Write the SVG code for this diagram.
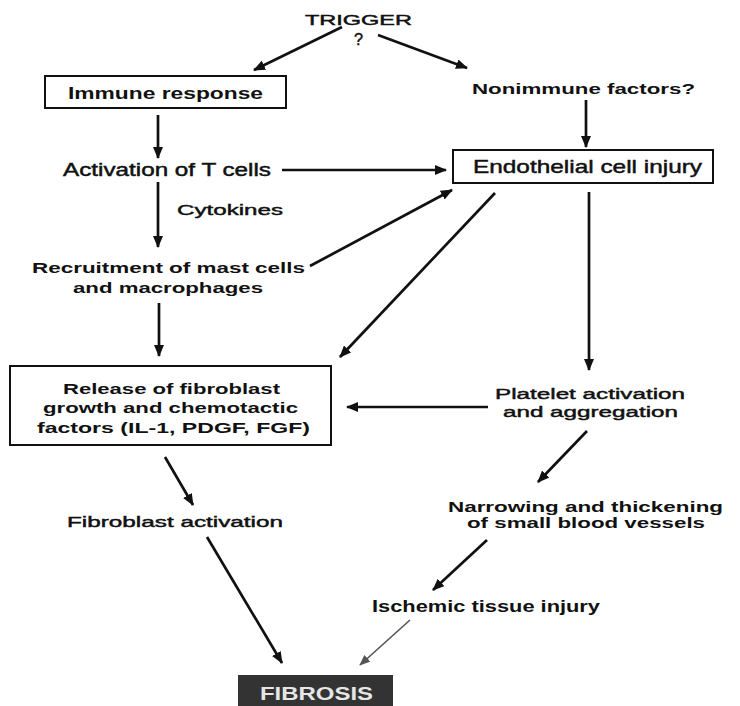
<svg xmlns="http://www.w3.org/2000/svg" width="740" height="706" viewBox="0 0 740 706">
  <defs>
    <marker id="arrow" viewBox="0 0 12 10" refX="11" refY="5" markerWidth="12" markerHeight="10" markerUnits="userSpaceOnUse" orient="auto">
      <path d="M0,0 L12,5 L0,10 Z" fill="#111"/>
    </marker>
    <marker id="arrowGrey" viewBox="0 0 12 10" refX="11" refY="5" markerWidth="11" markerHeight="9" markerUnits="userSpaceOnUse" orient="auto">
      <path d="M0,0 L12,5 L0,10 Z" fill="#555"/>
    </marker>
    <style>
      text { font-family: "Liberation Sans", Arial, sans-serif; fill: #111; }
      .b { font-weight: bold; }
      .n { font-weight: normal; stroke: #111; stroke-width: 0.45; }
      .box { fill: #fff; stroke: #111; stroke-width: 2; }
      .edge { stroke: #111; stroke-width: 2.7; fill: none; marker-end: url(#arrow); }
      .edge-grey { stroke: #555; stroke-width: 1.6; fill: none; marker-end: url(#arrowGrey); }
    </style>
  </defs>

  <rect width="740" height="706" fill="#fff"/>

  <!-- connectors -->
  <g id="connectors">
    <line class="edge" x1="342" y1="27" x2="254" y2="70"/>
    <line class="edge" x1="378" y1="35" x2="467" y2="68"/>
    <line class="edge" x1="158" y1="115" x2="158" y2="158"/>
    <line class="edge" x1="282" y1="170" x2="446" y2="170"/>
    <line class="edge" x1="586" y1="100" x2="586" y2="147"/>
    <line class="edge" x1="158" y1="182" x2="158" y2="247"/>
    <line class="edge" x1="310" y1="266" x2="452" y2="190"/>
    <line class="edge" x1="495" y1="193" x2="340" y2="357"/>
    <line class="edge" x1="589" y1="192" x2="589" y2="370"/>
    <line class="edge" x1="159" y1="303" x2="159" y2="356"/>
    <line class="edge" x1="488" y1="407" x2="347" y2="407"/>
    <line class="edge" x1="587" y1="431" x2="538" y2="482"/>
    <line class="edge" x1="487" y1="540" x2="433" y2="590"/>
    <line class="edge" x1="165" y1="457" x2="193" y2="505"/>
    <line class="edge" x1="207" y1="537" x2="282" y2="663"/>
    <line class="edge-grey" x1="410" y1="620" x2="360" y2="665"/>
  </g>

  <g id="trigger">
    <text class="n" x="305" y="25" font-size="14" textLength="107" lengthAdjust="spacingAndGlyphs">TRIGGER</text>
    <text class="n" x="354" y="45" font-size="16" textLength="9" lengthAdjust="spacingAndGlyphs">?</text>
  </g>

  <g id="immune-response">
    <rect class="box" x="45" y="76" width="241" height="32"/>
    <text class="b" x="68" y="99" font-size="17" textLength="195" lengthAdjust="spacingAndGlyphs">Immune response</text>
  </g>

  <g id="nonimmune-factors">
    <text class="b" x="472" y="94" font-size="15.5" textLength="223" lengthAdjust="spacingAndGlyphs">Nonimmune factors?</text>
  </g>

  <g id="t-cell-activation">
    <text class="n" x="63" y="176" font-size="17.5" textLength="208" lengthAdjust="spacingAndGlyphs">Activation of T cells</text>
  </g>

  <g id="endothelial-injury">
    <rect class="box" x="453" y="150" width="260" height="33"/>
    <text class="n" x="473" y="173" font-size="18.5" textLength="229" lengthAdjust="spacingAndGlyphs">Endothelial cell injury</text>
  </g>

  <g id="cytokines">
    <text class="n" x="177" y="215" font-size="15.5" textLength="106" lengthAdjust="spacingAndGlyphs">Cytokines</text>
  </g>

  <g id="recruitment">
    <text class="b" x="32" y="273" font-size="15" textLength="273" lengthAdjust="spacingAndGlyphs">Recruitment of mast cells</text>
    <text class="b" x="73" y="293" font-size="15" textLength="190" lengthAdjust="spacingAndGlyphs">and macrophages</text>
  </g>

  <g id="release-factors">
    <rect class="box" x="10" y="366" width="321" height="79"/>
    <text class="b" x="63" y="394" font-size="15" textLength="217" lengthAdjust="spacingAndGlyphs">Release of fibroblast</text>
    <text class="b" x="43" y="413" font-size="15" textLength="255" lengthAdjust="spacingAndGlyphs">growth and chemotactic</text>
    <text class="b" x="37" y="433" font-size="15" textLength="273" lengthAdjust="spacingAndGlyphs">factors (IL-1, PDGF, FGF)</text>
  </g>

  <g id="platelet-activation">
    <text class="n" x="495" y="399" font-size="15.5" textLength="190" lengthAdjust="spacingAndGlyphs">Platelet activation</text>
    <text class="n" x="503" y="417" font-size="15.5" textLength="175" lengthAdjust="spacingAndGlyphs">and aggregation</text>
  </g>

  <g id="narrowing-vessels">
    <text class="b" x="448" y="512" font-size="15.5" textLength="275" lengthAdjust="spacingAndGlyphs">Narrowing and thickening</text>
    <text class="b" x="467" y="528" font-size="15.5" textLength="238" lengthAdjust="spacingAndGlyphs">of small blood vessels</text>
  </g>

  <g id="fibroblast-activation">
    <text class="n" x="67" y="527" font-size="15.5" textLength="216" lengthAdjust="spacingAndGlyphs">Fibroblast activation</text>
  </g>

  <g id="ischemic-injury">
    <text class="b" x="372" y="612" font-size="16.5" textLength="228" lengthAdjust="spacingAndGlyphs">Ischemic tissue injury</text>
  </g>

  <g id="fibrosis">
    <rect x="238" y="675" width="155" height="31" fill="#333"/>
    <text class="b" x="260" y="700" font-size="18" textLength="113" lengthAdjust="spacingAndGlyphs" style="fill:#e6e6e6">FIBROSIS</text>
  </g>
</svg>
